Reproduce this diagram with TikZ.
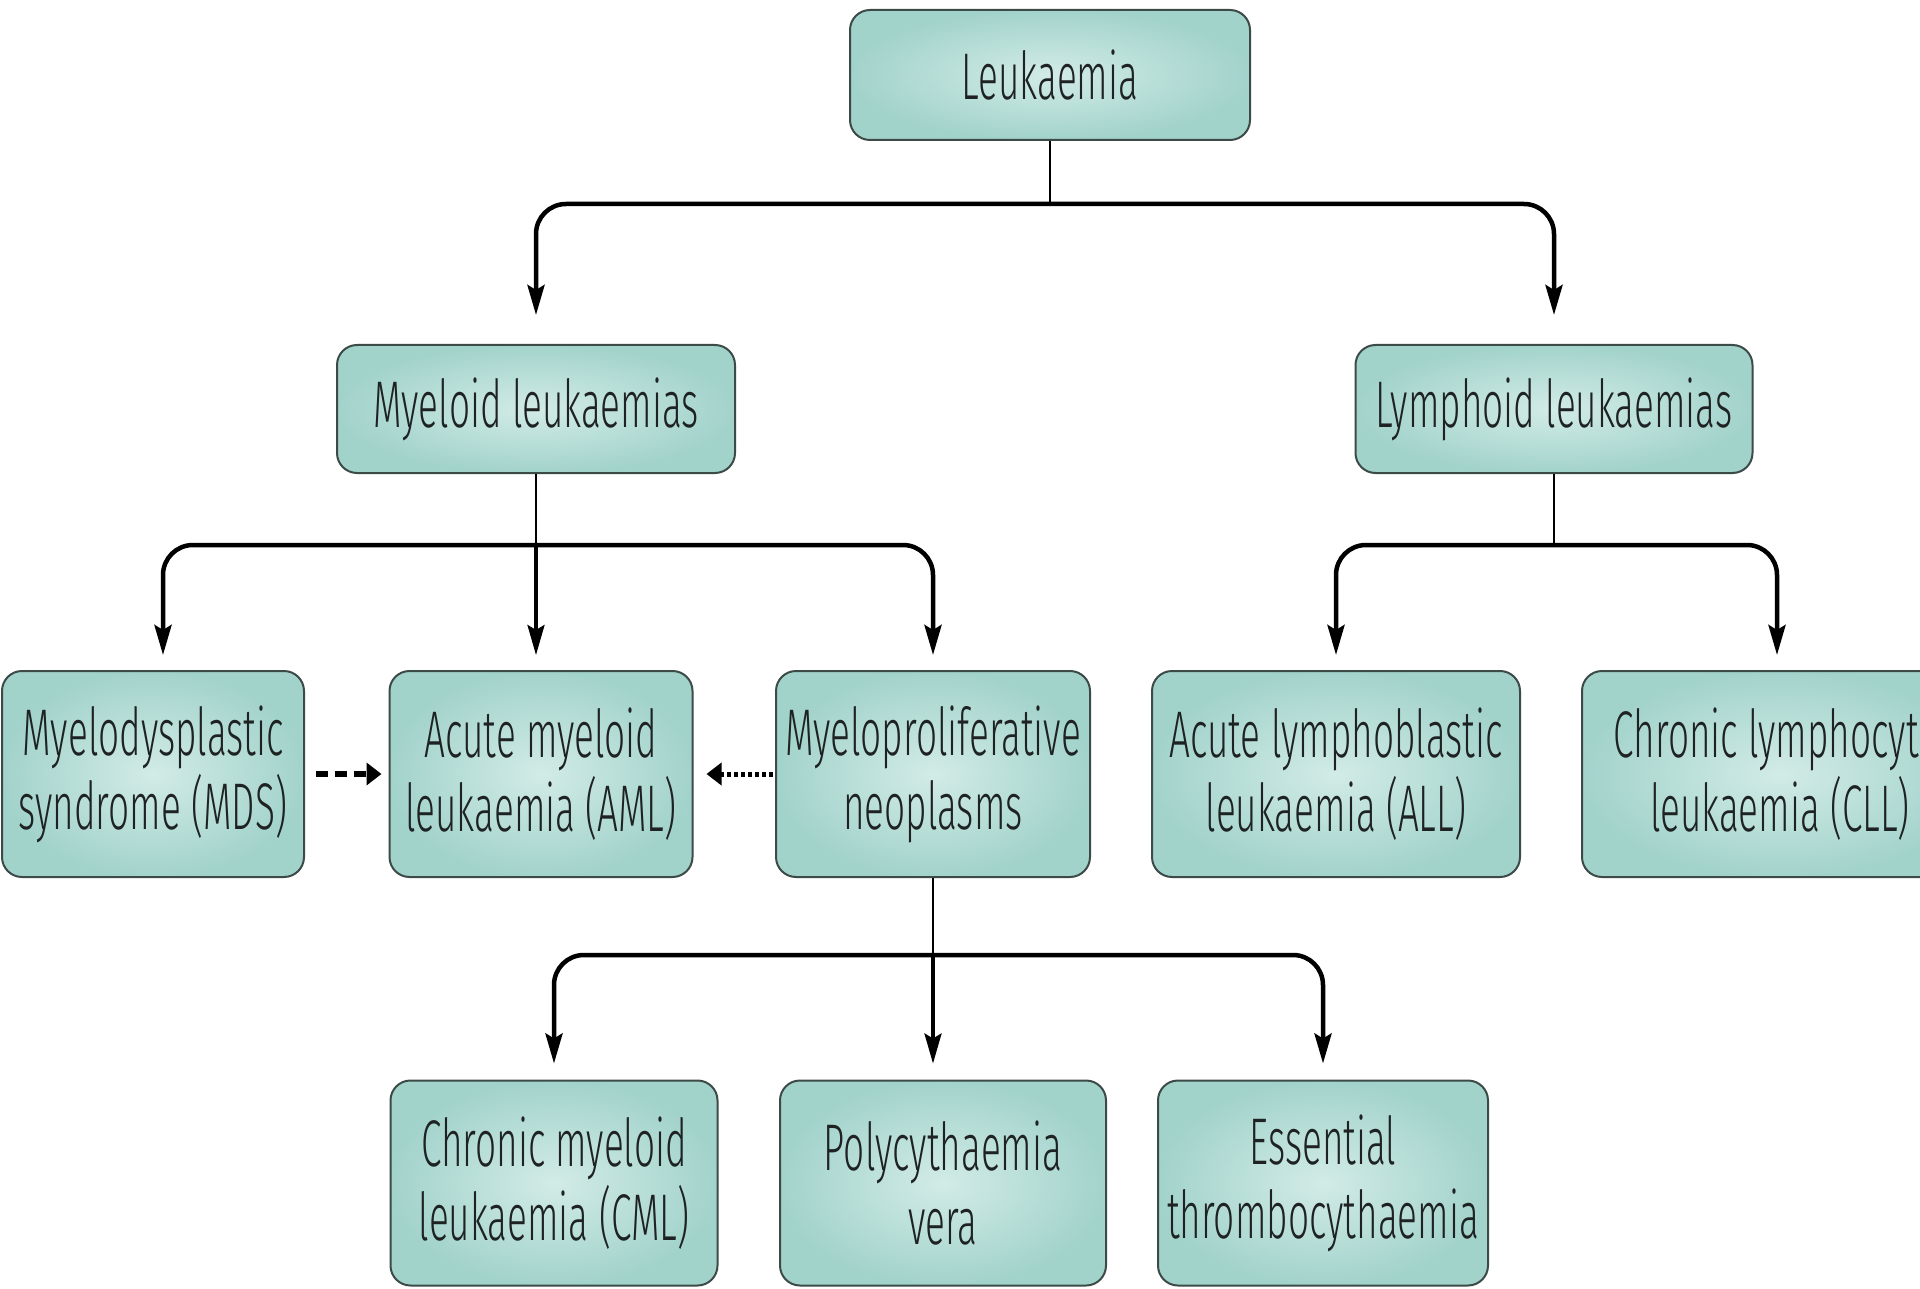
\documentclass[tikz,border=0pt]{standalone}
\usepackage{fontspec}
\IfFontExistsTF{Fira Sans Light}
  {\setmainfont{Fira Sans Light}[FakeStretch=0.56]}
  {\setmainfont{Fira Sans}[FakeStretch=0.54]}
\usetikzlibrary{arrows.meta}
\definecolor{boxin}{HTML}{D2EBE7}
\definecolor{boxout}{HTML}{A2D3CB}
\definecolor{boxline}{HTML}{3C4A48}
\definecolor{ink}{HTML}{1E2222}
\tikzset{
  box/.style={rectangle, rounded corners=20pt, draw=boxline, line width=2pt,
    inner color=boxin, outer color=boxout, text=ink, align=center,
    font=\fontsize{66}{74}\selectfont, inner sep=0pt},
  stem/.style={draw=black, line width=2.6pt},
  branch/.style={draw=black, line width=4.5pt, rounded corners=30pt,
    -{Stealth[length=30pt,width=17pt,inset=5pt]}},
  straight/.style={draw=black, line width=3.5pt,
    -{Stealth[length=30pt,width=17pt,inset=5pt]}},
  dasharrow/.style={draw=black, line width=6.5pt, dash pattern=on 12pt off 7pt,
    -{Triangle[length=15pt,width=22pt]}},
  dotarrow/.style={draw=black, line width=5pt, dash pattern=on 4pt off 3pt,
    -{Triangle[length=15pt,width=22pt]}},
}
\begin{document}
\begin{tikzpicture}[x=1pt,y=-1pt]
\clip (0,0) rectangle (1920,1289);
\fill[white] (0,0) rectangle (1920,1289);
% nodes
\node[box, minimum width=400pt, minimum height=130pt] (leuk) at (1050,75) {Leukaemia};
\node[box, minimum width=398pt, minimum height=128pt] (myel) at (536,409) {Myeloid leukaemias};
\node[box, minimum width=397pt, minimum height=128pt] (lymph) at (1554,409) {Lymphoid leukaemias};
\node[box, minimum width=302pt, minimum height=206pt] (mds) at (153,774) {Myelodysplastic\\syndrome (MDS)};
\node[box, minimum width=303pt, minimum height=206pt] (aml) at (541,774) {Acute myeloid\\leukaemia (AML)};
\node[box, minimum width=314pt, minimum height=206pt] (mpn) at (933,774) {Myeloproliferative\\neoplasms};
\node[box, minimum width=368pt, minimum height=206pt] (all) at (1336,774) {Acute lymphoblastic\\leukaemia (ALL)};
\node[box, minimum width=396pt, minimum height=206pt] (cll) at (1780,774) {Chronic lymphocytic\\leukaemia (CLL)};
\node[box, minimum width=327pt, minimum height=205pt] (cml) at (554,1183) {Chronic myeloid\\leukaemia (CML)};
\node[box, minimum width=326pt, minimum height=205pt] (pv) at (943,1183) {Polycythaemia\\vera};
\node[box, minimum width=330pt, minimum height=205pt] (et) at (1323,1183) {Essential\\thrombocythaemia};
% level 1
\draw[stem] (leuk.south) -- ++(0,63) coordinate (j1);
\draw[branch, shorten >=29pt] (j1) -| (myel.north);
\draw[branch, shorten >=29pt] (j1) -| (lymph.north);
% level 2 myeloid
\draw[stem] (myel.south) -- ++(0,71) coordinate (j2);
\draw[branch, shorten >=15pt] (j2) -| ([xshift=10pt]mds.north);
\draw[straight, shorten >=15pt] (j2) -- (j2 |- aml.north);
\draw[branch, shorten >=15pt] (j2) -| (mpn.north);
% level 2 lymphoid
\draw[stem] (lymph.south) -- ++(0,71) coordinate (j3);
\draw[branch, shorten >=15pt] (j3) -| (all.north);
\draw[branch, shorten >=15pt] (j3) -| ([xshift=-3pt]cll.north);
% level 3
\draw[stem] (mpn.south) -- ++(0,77) coordinate (j4);
\draw[branch, shorten >=16pt] (j4) -| (cml.north);
\draw[straight, shorten >=16pt] (j4) -- (j4 |- pv.north);
\draw[branch, shorten >=16pt] (j4) -| (et.north);
% transitions
\draw[dasharrow, shorten <=11pt, shorten >=7pt] (mds.east) -- (aml.west);
\draw[dotarrow, shorten <=2pt, shorten >=13pt] (mpn.west) -- (aml.east);
\end{tikzpicture}
\end{document}
